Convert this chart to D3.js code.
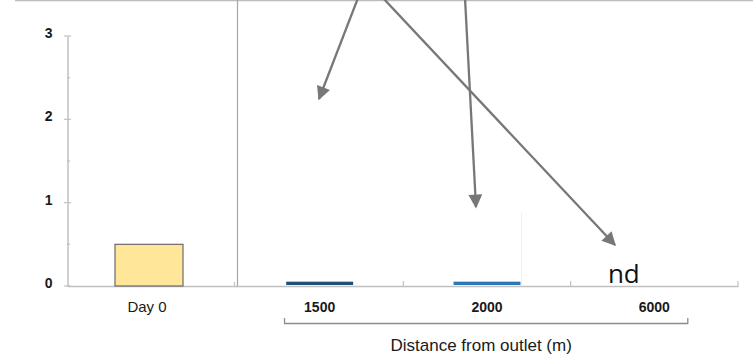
<!DOCTYPE html>
<html>
<head>
<meta charset="utf-8">
<script src="https://d3js.org/d3.v7.min.js"></script>
<style>
	body { margin: 0; background: #fff; }
	svg { display: block; }
</style>
</head>
<body>
<script>

	var w = 753;
	var h = 363;

	// data
	var dayCategories = ["Day 0"];
	var dayValues = [0.5];
	var distCategories = ["1500", "2000", "6000"];
	var distValues = [0.04, 0.04, null];   // null = not detected
	var distColors = ["#1f4e79", "#2e75b6", "#2e75b6"];
	var yTicks = [0, 1, 2, 3];
	var xTitle = "Distance from outlet (m)";
	var ndLabel = "nd";

	var svg = d3.select("body")
		.append("svg")
		.attr("width", w)
		.attr("height", h);

	var sans = "'Liberation Sans', Arial, sans-serif";
	var axisGray = "#c0c0c0";

	var yScale = d3.scaleLinear()
		.domain([0, 3])
		.range([286, 36]);

	var x1 = d3.scaleBand()
		.domain(dayCategories)
		.range([67, 237]);

	var x2 = d3.scaleBand()
		.domain(distCategories)
		.range([236, 738]);

	// top border line
	svg.append("line")
		.attr("x1", 15).attr("x2", w)
		.attr("y1", 0.5).attr("y2", 0.5)
		.attr("stroke", "#bdbdbd").attr("stroke-width", 1.5);

	// panel separator
	svg.append("line")
		.attr("x1", 237.5).attr("x2", 237.5)
		.attr("y1", 0).attr("y2", yScale(0))
		.attr("stroke", "#a6a6a6").attr("stroke-width", 1.2);

	// y axis
	var yAxis = d3.axisLeft(yScale)
		.tickValues(yTicks)
		.tickFormat(d3.format("d"))
		.tickSize(0)
		.tickPadding(15);

	var gy = svg.append("g")
		.attr("transform", "translate(67.5,0)")
		.call(yAxis);
	gy.select(".domain").attr("stroke", axisGray).attr("stroke-width", 1.5);
	gy.selectAll("text")
		.attr("font-family", sans)
		.attr("font-weight", "bold")
		.attr("font-size", 14)
		.attr("dy", "0.1em")
		.attr("fill", "#1a1a1a");

	// major and minor y ticks
	var minors = d3.range(0.5, 3, 1);
	svg.selectAll(".ymaj")
		.data(yTicks)
		.enter().append("line")
		.attr("x1", 64).attr("x2", 71)
		.attr("y1", function(d){ return yScale(d); })
		.attr("y2", function(d){ return yScale(d); })
		.attr("stroke", axisGray).attr("stroke-width", 1.2);
	svg.selectAll(".ymin")
		.data(minors)
		.enter().append("line")
		.attr("x1", 67).attr("x2", 70)
		.attr("y1", function(d){ return yScale(d); })
		.attr("y2", function(d){ return yScale(d); })
		.attr("stroke", axisGray).attr("stroke-width", 1.2);

	// panel 1 baseline
	var g1 = svg.append("g")
		.attr("transform", "translate(0," + yScale(0) + ")")
		.call(d3.axisBottom(x1).tickSize(0).tickPadding(15.5));
	g1.select(".domain").attr("stroke", axisGray).attr("stroke-width", 1.5);
	g1.selectAll("text")
		.attr("font-family", sans)
		.attr("font-size", 15)
		.attr("fill", "#1a1a1a")
		.attr("dx", -5);
	svg.append("line")
		.attr("x1", 234.5).attr("x2", 234.5)
		.attr("y1", yScale(0) - 4).attr("y2", yScale(0))
		.attr("stroke", axisGray).attr("stroke-width", 1.2);

	// panel 2 baseline
	var g2 = svg.append("g")
		.attr("transform", "translate(0," + yScale(0) + ")")
		.call(d3.axisBottom(x2).tickSize(0).tickPadding(16));
	g2.select(".domain").attr("stroke", axisGray).attr("stroke-width", 1.5);
	g2.selectAll("text")
		.attr("font-family", sans)
		.attr("font-weight", "bold")
		.attr("font-size", 14)
		.attr("fill", "#1a1a1a");
	svg.selectAll(".xsep")
		.data(distCategories.slice(1).concat(["end"]))
		.enter().append("line")
		.attr("x1", function(d){ return d === "end" ? x2.range()[1] : x2(d); })
		.attr("x2", function(d){ return d === "end" ? x2.range()[1] : x2(d); })
		.attr("y1", yScale(0) - 5).attr("y2", yScale(0))
		.attr("stroke", axisGray).attr("stroke-width", 1.2);

	// bars
	var barFrac = 0.4;
	svg.selectAll(".day")
		.data(dayValues)
		.enter().append("rect")
		.attr("x", function(d, i){ return x1(dayCategories[i]) + x1.bandwidth() * (1 - barFrac) / 2 - 3; })
		.attr("y", function(d){ return yScale(d); })
		.attr("width", x1.bandwidth() * barFrac)
		.attr("height", function(d){ return yScale(0) - yScale(d); })
		.attr("fill", "#ffe699")
		.attr("stroke", "#6b6b6b")
		.attr("stroke-width", 1.2);

	svg.selectAll(".dist")
		.data(distValues)
		.enter().append("rect")
		.filter(function(d){ return d !== null; })
		.attr("x", function(d, i){ return x2(distCategories[i]) + x2.bandwidth() * (1 - barFrac) / 2; })
		.attr("y", function(d){ return yScale(d) - 1; })
		.attr("width", x2.bandwidth() * barFrac)
		.attr("height", function(d){ return yScale(0) - yScale(d); })
		.attr("fill", function(d, i){ return distColors[i]; });

	// nd label
	distValues.forEach(function(d, i){
		if (d === null) {
			svg.append("text")
				.attr("x", x2(distCategories[i]) + x2.bandwidth() / 2 - 30.5)
				.attr("y", yScale(0) - 3)
				.attr("text-anchor", "middle")
				.attr("font-family", "'Open Sans', 'Liberation Sans', sans-serif")
				.attr("font-size", 26)
				.attr("fill", "#111")
				.text(ndLabel);
		}
	});

	// faint artefact line near 2000 bar
	svg.append("line")
		.attr("x1", 521.5).attr("x2", 521.5)
		.attr("y1", 213).attr("y2", yScale(0))
		.attr("stroke", "#efefef").attr("stroke-width", 1);

	// bracket under distance categories
	var bL = x2("1500") + x2.bandwidth() * 0.29;
	var bR = x2("6000") + x2.bandwidth() * 0.7;
	svg.append("path")
		.attr("d", "M" + bL + ",318 V323.5 H" + bR + " V318")
		.attr("fill", "none")
		.attr("stroke", "#8c8c8c")
		.attr("stroke-width", 1.3);

	svg.append("text")
		.attr("x", (bL + bR) / 2 - 5)
		.attr("y", 351)
		.attr("text-anchor", "middle")
		.attr("font-family", sans)
		.attr("font-size", 17)
		.attr("fill", "#1a1a1a")
		.text(xTitle);

	// annotation arrows
	var arrows = [
		{x1: 358, y1: -2, x2: 319, y2: 99},
		{x1: 465, y1: -2, x2: 476, y2: 207},
		{x1: 383, y1: -2, x2: 615, y2: 245}
	];

	svg.append("defs").append("marker")
		.attr("id", "head")
		.attr("viewBox", "0 0 10 10")
		.attr("refX", 9).attr("refY", 5)
		.attr("markerWidth", 6.5).attr("markerHeight", 6)
		.attr("markerUnits", "strokeWidth")
		.attr("orient", "auto")
		.append("path")
		.attr("d", "M0,0 L10,5 L0,10 Z")
		.attr("fill", "#777777");

	svg.selectAll(".arrow")
		.data(arrows)
		.enter().append("line")
		.attr("x1", function(d){ return d.x1; })
		.attr("y1", function(d){ return d.y1; })
		.attr("x2", function(d){ return d.x2; })
		.attr("y2", function(d){ return d.y2; })
		.attr("stroke", "#777777")
		.attr("stroke-width", 2.3)
		.attr("marker-end", "url(#head)");

</script>
</body>
</html>
